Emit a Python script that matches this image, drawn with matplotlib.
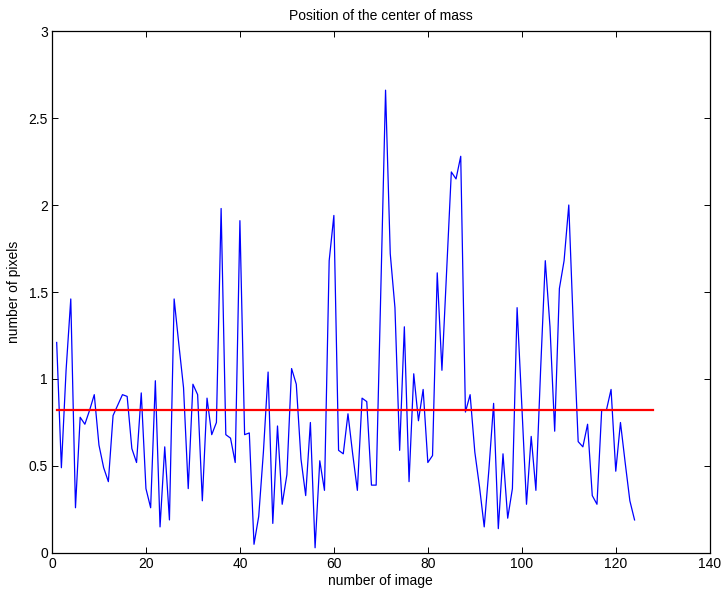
import numpy as np
import matplotlib.pyplot as plt

plt.rcParams['font.family'] = ['Liberation Sans', 'DejaVu Sans']
plt.rcParams['font.size'] = 10

# center-of-mass displacement for each image (pixels)
images = np.arange(1, 125)
pixels = [1.21, 0.49, 1.05, 1.46, 0.26, 0.78, 0.74, 0.82, 0.91, 0.62,
          0.49, 0.41, 0.79, 0.85, 0.91, 0.90, 0.60, 0.52, 0.92, 0.37,
          0.26, 0.99, 0.15, 0.61, 0.19, 1.46, 1.20, 0.95, 0.37, 0.97,
          0.91, 0.30, 0.89, 0.68, 0.75, 1.98, 0.68, 0.66, 0.52, 1.91,
          0.68, 0.69, 0.05, 0.21, 0.58, 1.04, 0.17, 0.73, 0.28, 0.45,
          1.06, 0.97, 0.54, 0.33, 0.75, 0.03, 0.53, 0.36, 1.68, 1.94,
          0.59, 0.57, 0.80, 0.57, 0.36, 0.89, 0.87, 0.39, 0.39, 1.52,
          2.66, 1.72, 1.41, 0.59, 1.30, 0.41, 1.03, 0.76, 0.94, 0.52,
          0.56, 1.61, 1.05, 1.62, 2.19, 2.15, 2.28, 0.81, 0.91, 0.58,
          0.38, 0.15, 0.48, 0.86, 0.14, 0.57, 0.20, 0.37, 1.41, 0.85,
          0.28, 0.67, 0.36, 1.05, 1.68, 1.30, 0.70, 1.52, 1.68, 2.00,
          1.28, 0.64, 0.61, 0.74, 0.33, 0.28, 0.82, 0.82, 0.94, 0.47,
          0.75, 0.52, 0.30, 0.19]
mean_level = 0.82
mean_span = [1, 128]

fig = plt.figure(figsize=(7.22, 5.92), dpi=100)
ax = fig.add_axes([0.072, 0.0659, 0.911, 0.8817])

ax.plot(images, pixels, color='#0000ff', linewidth=0.9)
ax.plot(mean_span, [mean_level, mean_level], color='#ff0000', linewidth=1.6)

ax.set_xlim(0, 140)
ax.set_ylim(0, 3)
ax.set_xticks(np.arange(0, 141, 20))
ax.set_yticks(np.arange(0, 3.01, 0.5))
ax.set_yticklabels(['0', '0.5', '1', '1.5', '2', '2.5', '3'])
ax.tick_params(direction='in', top=True, right=True, length=4.5, width=0.7,
               labelsize=10, pad=3)
for s in ax.spines.values():
    s.set_linewidth(0.9)

ax.set_title('Position of the center of mass', fontsize=10, pad=8)
ax.set_xlabel('number of image', fontsize=10, labelpad=2)
ax.set_ylabel('number of pixels', fontsize=10, labelpad=5)

fig.savefig('out.png', dpi=100)
